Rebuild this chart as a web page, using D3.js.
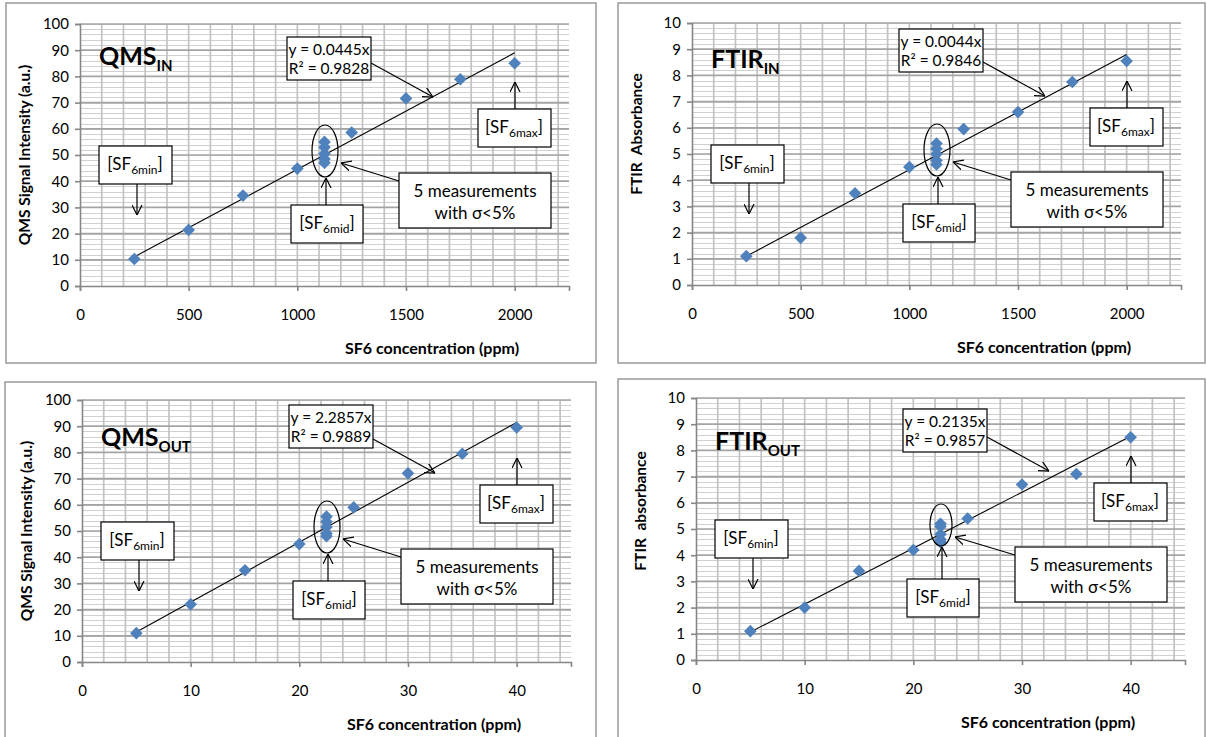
<!DOCTYPE html>
<html>
<head>
<meta charset="utf-8">
<script src="https://cdn.jsdelivr.net/npm/d3@7"></script>
<style>
body { margin: 0; background: #fff; }
text { font-family: Lato, "Open Sans", sans-serif; fill: #000; }
</style>
</head>
<body>
<script>
// data
const inConc = [250, 500, 750, 1000, 1125, 1125, 1125, 1125, 1125, 1250, 1500, 1750, 2000];
const outConc = [5, 10, 15, 20, 22.5, 22.5, 22.5, 22.5, 22.5, 25, 30, 35, 40];
const qmsInSignal = [10.3, 21.4, 34.5, 44.8, 55, 53, 50.5, 48.5, 47, 58.6, 71.6, 78.9, 85];
const ftirInAbs = [1.1, 1.8, 3.5, 4.5, 5.4, 5.2, 5.0, 4.75, 4.6, 5.95, 6.6, 7.75, 8.55];
const qmsOutSignal = [11, 22, 35, 45, 55.5, 53.5, 51.5, 49, 48, 59, 72, 79.5, 89.5];
const ftirOutAbs = [1.1, 2.0, 3.4, 4.2, 5.2, 5.1, 4.8, 4.6, 4.5, 5.4, 6.7, 7.1, 8.5];

const slopes = [0.0445, 0.0044, 2.2857, 0.2135];
const rSquared = ["0.9828", "0.9846", "0.9889", "0.9857"];
const titles = ["QMS", "FTIR", "QMS", "FTIR"];
const titleSubs = ["IN", "IN", "OUT", "OUT"];
const yTitles = ["QMS Signal Intensity (a.u.)", "FTIR  Absorbance", "QMS Signal Intensity (a.u.)", "FTIR  absorbance"];
const xTitle = "SF6 concentration (ppm)";

const inXTicks = [0, 500, 1000, 1500, 2000];
const outXTicks = [0, 10, 20, 30, 40];
const qmsYTicks = d3.range(0, 101, 10);
const ftirYTicks = d3.range(0, 11, 1);

const panels = [
    { xs: inConc, ys: qmsInSignal, xMax: 2250, xTicks: inXTicks, xMinor: 100, yMax: 100, yTicks: qmsYTicks, yMinor: 2,
      px: 80, py: 24, frame: [6, 3, 590, 360], titleY: 41, eqY: 13, yTitleShift: 0, ell: [13, 26] },
    { xs: inConc, ys: ftirInAbs, xMax: 2250, xTicks: inXTicks, xMinor: 100, yMax: 10, yTicks: ftirYTicks, yMinor: 0.2,
      px: 692, py: 23, frame: [618, 3, 587, 360], titleY: 45, eqY: 6, yTitleShift: -20, ell: [13, 26] },
    { xs: outConc, ys: qmsOutSignal, xMax: 45, xTicks: outXTicks, xMinor: 2, yMax: 100, yTicks: qmsYTicks, yMinor: 2,
      px: 82, py: 400, frame: [5, 382, 591, 362], titleY: 46, eqY: 5, yTitleShift: 0, ell: [13, 26] },
    { xs: outConc, ys: ftirOutAbs, xMax: 45, xTicks: outXTicks, xMinor: 2, yMax: 10, yTicks: ftirYTicks, yMinor: 0.2,
      px: 696, py: 398, frame: [618, 379, 587, 362], titleY: 52, eqY: 11, yTitleShift: -18, ell: [11, 21] }
];

const plotW = 489, plotH = 262;

const svg = d3.select("body").append("svg").attr("width", 1207).attr("height", 737);

const defs = svg.append("defs");
defs.append("marker")
    .attr("id", "openArrow")
    .attr("viewBox", "0 0 10 10")
    .attr("refX", 10).attr("refY", 5)
    .attr("markerWidth", 10).attr("markerHeight", 11)
    .attr("markerUnits", "userSpaceOnUse")
    .attr("orient", "auto")
    .append("path")
    .attr("d", "M0,0 L10,5 L0,10")
    .attr("fill", "none").attr("stroke", "#000").attr("stroke-width", 1.2);

function arrow(g, x1, y1, x2, y2) {
    g.append("line")
        .attr("x1", x1).attr("y1", y1).attr("x2", x2).attr("y2", y2)
        .attr("stroke", "#000").attr("stroke-width", 1.2)
        .attr("marker-end", "url(#openArrow)");
}

function box(g, x, y, w, h) {
    g.append("rect").attr("x", x).attr("y", y).attr("width", w).attr("height", h)
        .attr("fill", "#fff").attr("stroke", "#000").attr("stroke-width", 1.2);
}

function sfLabel(g, cx, cy, sub) {
    const t = g.append("text").attr("x", cx).attr("y", cy).attr("text-anchor", "middle")
        .attr("font-size", 17);
    t.append("tspan").text("[SF");
    t.append("tspan").attr("font-size", 12).attr("dy", 4).text(sub);
    t.append("tspan").attr("dy", -4).text("]");
}

panels.forEach((p, i) => {
    const [fx, fy, fw, fh] = p.frame;
    svg.append("rect").attr("x", fx).attr("y", fy).attr("width", fw).attr("height", fh)
        .attr("fill", "#fff").attr("stroke", "#9a9a9a").attr("stroke-width", 1.5);

    const x = d3.scaleLinear().domain([0, p.xMax]).range([0, plotW]);
    const y = d3.scaleLinear().domain([0, p.yMax]).range([plotH, 0]);

    const g = svg.append("g").attr("transform", `translate(${p.px},${p.py})`);

    // minor horizontal grid
    const yMinorVals = d3.range(0, p.yMax + 1e-9, p.yMinor);
    g.append("g").selectAll("line").data(yMinorVals).join("line")
        .attr("x1", 0).attr("x2", plotW)
        .attr("y1", d => Math.round(y(d)) + 0.5).attr("y2", d => Math.round(y(d)) + 0.5)
        .attr("stroke", "#d0d0d0").attr("stroke-width", 1);

    // vertical grid
    const xMinorVals = d3.range(p.xMinor, p.xMax, p.xMinor);
    g.append("g").selectAll("line").data(xMinorVals).join("line")
        .attr("y1", 0).attr("y2", plotH)
        .attr("x1", d => x(d)).attr("x2", d => x(d))
        .attr("stroke", "#c2c2c2").attr("stroke-width", 1.7);

    // major horizontal grid
    g.append("g").selectAll("line").data(p.yTicks.slice(1)).join("line")
        .attr("x1", 0).attr("x2", plotW)
        .attr("y1", d => y(d)).attr("y2", d => y(d))
        .attr("stroke", "#a4a4a4").attr("stroke-width", 1.7);

    // axes
    const yAxis = g.append("g")
        .call(d3.axisLeft(y).tickValues(p.yTicks).tickSize(5).tickPadding(6).tickFormat(d3.format("d")));
    const xAxis = g.append("g").attr("transform", `translate(0,${plotH})`)
        .call(d3.axisBottom(x).tickValues(p.xTicks).tickSize(5).tickPadding(18).tickFormat(d3.format("d")));
    [yAxis, xAxis].forEach(a => {
        a.select(".domain").attr("stroke", "#868686").attr("stroke-width", 1.6);
        a.selectAll(".tick line").attr("stroke", "#868686").attr("stroke-width", 1.6);
        a.selectAll(".tick text").attr("font-size", 15).attr("font-family", "Lato, sans-serif").attr("fill", "#111");
    });

    // trend line through the origin, drawn over the measured range
    const xExt = d3.extent(p.xs);
    g.append("path")
        .datum(xExt)
        .attr("d", d3.line().x(d => x(d)).y(d => y(slopes[i] * d)))
        .attr("stroke", "#000").attr("stroke-width", 1.1).attr("fill", "none");

    // points
    g.append("g").selectAll("path").data(p.xs.map((v, k) => [v, p.ys[k]])).join("path")
        .attr("d", d3.symbol(d3.symbolSquare, 80))
        .attr("transform", d => `translate(${x(d[0])},${y(d[1])}) rotate(45)`)
        .attr("fill", "#4f81bd");

    // title
    const tt = g.append("text").attr("x", 19).attr("y", p.titleY)
        .attr("font-size", 25).attr("font-weight", "bold");
    tt.append("tspan").text(titles[i]);
    tt.append("tspan").attr("font-size", 15).attr("dy", 6).text(titleSubs[i]);

    // axis titles
    g.append("text")
        .attr("transform", `translate(-50,${plotH / 2 + p.yTitleShift}) rotate(-90)`)
        .attr("text-anchor", "middle").attr("font-size", 15.5).attr("font-weight", "bold")
        .style("white-space", "pre")
        .text(yTitles[i]);
    g.append("text").attr("x", 352).attr("y", plotH + 68)
        .attr("text-anchor", "middle").attr("font-size", 16).attr("font-weight", "bold")
        .text(xTitle);

    // annotations
    const ann = g.append("g");
    arrow(ann, 291, 39, 353, 73);
    box(ann, 207, p.eqY, 84, 43);
    ann.append("text").attr("x", 249).attr("y", p.eqY + 18).attr("text-anchor", "middle")
        .attr("font-size", 15.5).text(`y = ${slopes[i]}x`);
    ann.append("text").attr("x", 249).attr("y", p.eqY + 37).attr("text-anchor", "middle")
        .attr("font-size", 15.5).text(`R² = ${rSquared[i]}`);

    arrow(ann, 435, 85, 435, 58);
    box(ann, 398, 85, 73, 38);
    sfLabel(ann, 434, 109, "6max");

    ann.append("ellipse").attr("cx", 245).attr("cy", 127).attr("rx", p.ell[0]).attr("ry", p.ell[1])
        .attr("fill", "none").attr("stroke", "#000").attr("stroke-width", 1.2);

    arrow(ann, 246, 181, 246, 127 + p.ell[1] + 1);
    box(ann, 211, 181, 72, 38);
    sfLabel(ann, 247, 205, "6mid");

    arrow(ann, 319, 157, 245 + p.ell[0] + 3, 139);
    box(ann, 319, 149, 152, 55);
    ann.append("text").attr("x", 395).attr("y", 173).attr("text-anchor", "middle")
        .attr("font-size", 17).text("5 measurements");
    ann.append("text").attr("x", 395).attr("y", 195).attr("text-anchor", "middle")
        .attr("font-size", 17).text("with σ<5%");

    arrow(ann, 57, 160, 57, 191);
    box(ann, 19, 122, 73, 38);
    sfLabel(ann, 55, 146, "6min");
});
</script>
</body>
</html>
